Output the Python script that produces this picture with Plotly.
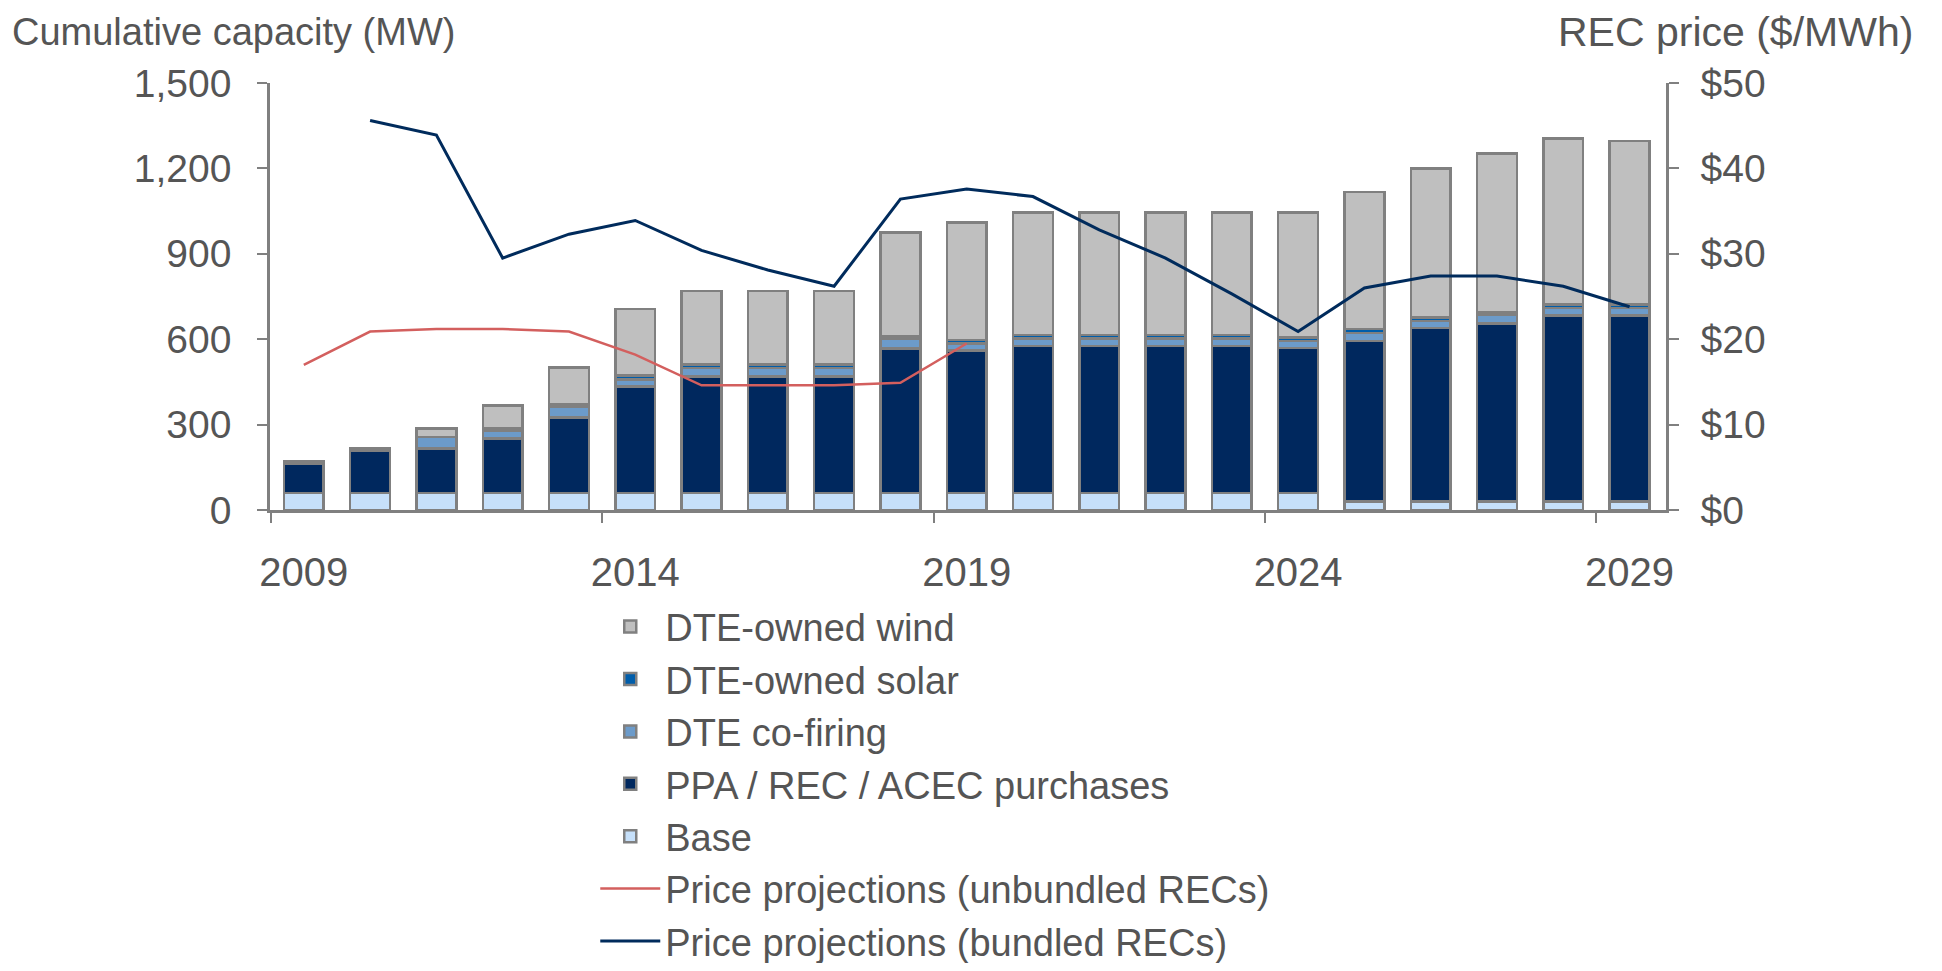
import plotly.graph_objects as go

years = [str(y) for y in range(2009, 2030)]

base = [60, 60, 60, 60, 60, 60, 60, 60, 60, 60, 60, 60, 60, 60, 60, 60, 30, 30, 30, 30, 30]
ppa = [104, 148, 156, 192, 265, 373, 409, 409, 409, 508, 500, 516, 516, 516, 516, 509, 564, 609, 626, 653, 653]
cofiring = [6, 8, 40, 27, 36, 26, 29, 29, 29, 35, 25, 27, 27, 27, 27, 25, 27, 25, 30, 27, 27]
solar = [0, 0, 0, 8, 10, 14, 14, 14, 14, 8, 12, 12, 12, 12, 12, 12, 14, 12, 8, 12, 12]
wind = [0, 0, 30, 80, 129, 233, 257, 257, 257, 364, 413, 430, 430, 430, 430, 439, 482, 524, 558, 583, 575]

unbundled = [17.0, 20.9, 21.2, 21.2, 20.9, 18.2, 14.6, 14.6, 14.6, 14.9, 19.5,
             None, None, None, None, None, None, None, None, None, None]
bundled = [None, 45.6, 43.9, 29.5, 32.3, 33.9, 30.4, 28.1, 26.2, 36.4, 37.6,
           36.7, 32.8, 29.5, 25.3, 20.9, 26.0, 27.4, 27.4, 26.2, 23.8]

TXT = "#555555"
AX = "#808080"
FONT = "Liberation Sans, Arial, sans-serif"

fig = go.Figure()

bar_specs = [
    ("Base", base, "#C6E0FA", 5),
    ("PPA / REC / ACEC purchases", ppa, "#00285E", 4),
    ("DTE co-firing", cofiring, "#6C9BCA", 3),
    ("DTE-owned solar", solar, "#005DAA", 2),
    ("DTE-owned wind", wind, "#BFBFBF", 1),
]
for name, vals, col, rank in bar_specs:
    fig.add_trace(go.Bar(
        x=years, y=vals, name=name, legendrank=rank,
        marker=dict(color=col, line=dict(color=AX, width=2.5)),
        width=0.6,
    ))

fig.add_trace(go.Scatter(
    x=years, y=unbundled, name="Price projections (unbundled RECs)", yaxis="y2",
    mode="lines", line=dict(color="#D35F5E", width=2.5), legendrank=6,
))
fig.add_trace(go.Scatter(
    x=years, y=bundled, name="Price projections (bundled RECs)", yaxis="y2",
    mode="lines", line=dict(color="#002B5C", width=3), legendrank=7,
))

fig.update_layout(
    width=1926, height=955,
    margin=dict(l=262, r=268, t=75, b=453, autoexpand=False),
    paper_bgcolor="white", plot_bgcolor="white",
    barmode="stack",
    font=dict(family=FONT, color=TXT, size=38),
    xaxis=dict(
        type="category", categoryorder="array", categoryarray=years,
        range=[-0.51, 20.55], dtick=5, tickson="boundaries", tickangle=0,
        ticks="outside", ticklen=10, tickwidth=2, tickcolor=AX, ticklabelstandoff=25,
        showline=True, linecolor=AX, linewidth=2.5, showgrid=False,
        tickfont=dict(size=40, color=TXT, family=FONT), zeroline=False,
    ),
    yaxis=dict(
        range=[0, 1500], dtick=300, tickformat=",",
        ticks="outside", ticklen=10, tickwidth=2, tickcolor=AX, ticklabelstandoff=18,
        showline=True, linecolor=AX, linewidth=2.5, showgrid=False, zeroline=False,
        tickfont=dict(size=39, color=TXT, family=FONT),
    ),
    yaxis2=dict(
        overlaying="y", side="right", range=[0, 50], dtick=10, tickprefix="$",
        ticks="outside", ticklen=10, tickwidth=2, tickcolor=AX, ticklabelstandoff=14,
        showline=True, linecolor=AX, linewidth=2.5, showgrid=False, zeroline=False,
        tickfont=dict(size=39, color=TXT, family=FONT),
    ),
    legend=dict(
        x=0.233, y=-0.2, xanchor="left", yanchor="top",
        orientation="v", traceorder="normal",
        font=dict(size=38, color=TXT, family=FONT),
        bgcolor="rgba(0,0,0,0)", itemwidth=60,
        tracegroupgap=0,
    ),
    showlegend=True,
    annotations=[
        dict(text="Cumulative capacity (MW)", xref="paper", yref="paper",
             x=-0.186, y=1.119, xanchor="left", yanchor="middle", showarrow=False,
             font=dict(size=38, color=TXT, family=FONT)),
        dict(text="REC price ($/MWh)", xref="paper", yref="paper",
             x=1.1785, y=1.119, xanchor="right", yanchor="middle", showarrow=False,
             font=dict(size=41, color=TXT, family=FONT)),
    ],
)

fig.write_html("out.html")
